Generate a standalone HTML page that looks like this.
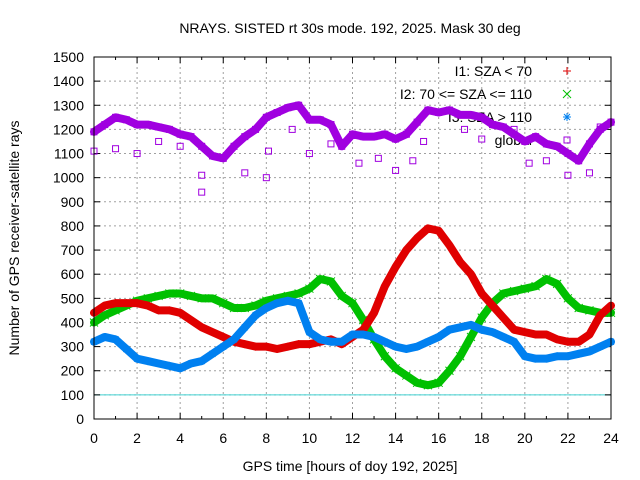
<!DOCTYPE html>
<html><head><meta charset="utf-8"><style>
body{margin:0;background:#fff}
svg{display:block;font-family:"Liberation Sans",sans-serif}
</style></head><body>
<svg id="chart" width="640" height="480" viewBox="0 0 640 480"></svg>
<script>
const hours=[0,0.5,1,1.5,2,2.5,3,3.5,4,4.5,5,5.5,6,6.5,7,7.5,8,8.5,9,9.5,10,10.5,11,11.5,12,12.5,13,13.5,14,14.5,15,15.5,16,16.5,17,17.5,18,18.5,19,19.5,20,20.5,21,21.5,22,22.5,23,23.5,24];
const globalVals=[1190,1220,1250,1240,1220,1220,1210,1200,1180,1170,1130,1090,1080,1130,1170,1200,1250,1270,1290,1300,1240,1240,1220,1130,1180,1170,1170,1180,1160,1180,1230,1280,1270,1280,1260,1260,1250,1220,1210,1180,1150,1170,1140,1130,1100,1070,1140,1200,1230];
const i1Vals=[440,470,480,480,480,470,450,450,440,410,380,360,340,320,310,300,300,290,300,310,310,320,330,310,340,370,440,550,630,700,750,790,780,720,650,600,520,470,420,370,360,350,350,330,320,320,350,430,470];
const i2Vals=[400,430,450,470,490,500,510,520,520,510,500,500,480,460,460,470,490,500,510,520,540,580,570,510,480,410,330,260,210,180,150,140,150,200,260,340,420,480,520,530,540,550,580,560,500,460,450,440,440];
const i3Vals=[320,340,330,290,250,240,230,220,210,230,240,270,300,330,380,430,460,480,490,480,360,330,320,320,350,350,340,320,300,290,300,320,340,370,380,390,370,360,340,320,260,250,250,260,260,270,280,300,320];
const globalOutX=[0,1,2,3,4,5,5,7,8,8.1,9.2,10,11,12.3,13.2,14,14.8,15.3,17.2,18,19.5,20.2,21,22,23,23.5];
const globalOutY=[1110,1120,1100,1150,1130,1010,940,1020,1000,1110,1200,1100,1140,1060,1080,1030,1070,1150,1200,1160,1200,1060,1070,1010,1020,1210];
const xTicks=[0,2,4,6,8,10,12,14,16,18,20,22,24];
const yTicks=[0,100,200,300,400,500,600,700,800,900,1000,1100,1200,1300,1400,1500];

const NS="http://www.w3.org/2000/svg";
const svg=document.getElementById('chart');
const X0=94,X1=611,Y0=419,Y1=57;
const sx=h=>X0+(X1-X0)*h/24;
const sy=v=>Y0-(Y0-Y1)*v/1500;
function mk(tag,attrs,parent){const e=document.createElementNS(NS,tag);for(const k in attrs)e.setAttribute(k,attrs[k]);(parent||svg).appendChild(e);return e;}

const grid=mk('g',{});


xTicks.forEach(t=>{if(t>0&&t<24)mk('line',{x1:sx(t),x2:sx(t),y1:Y0,y2:Y1,stroke:'#a0a0a0','stroke-dasharray':'2,3'},grid);});
yTicks.forEach(t=>{if(t>0&&t<1500)mk('line',{x1:X0,x2:X1,y1:sy(t),y2:sy(t),stroke:'#a0a0a0','stroke-dasharray':'2,3'},grid);});
const ref=mk('line',{x1:X0,x2:X1,y1:sy(100),y2:sy(100),stroke:'#40d0d0','stroke-width':1});



const axes=mk('g',{});


xTicks.forEach(t=>{
  mk('line',{x1:sx(t),x2:sx(t),y1:Y0,y2:Y0-6,stroke:'#000'},axes);
  mk('line',{x1:sx(t),x2:sx(t),y1:Y1,y2:Y1+6,stroke:'#000'},axes);
  const l=mk('text',{x:sx(t),y:443,'text-anchor':'middle','font-size':14},axes);l.textContent=t;
  
  
});
for(let t=1;t<24;t+=2){mk('line',{x1:sx(t),x2:sx(t),y1:Y0,y2:Y0-3,stroke:'#000'},axes);mk('line',{x1:sx(t),x2:sx(t),y1:Y1,y2:Y1+3,stroke:'#000'},axes);}
yTicks.forEach(t=>{
  mk('line',{x1:X0,x2:X0+6,y1:sy(t),y2:sy(t),stroke:'#000'},axes);
  mk('line',{x1:X1,x2:X1-6,y1:sy(t),y2:sy(t),stroke:'#000'},axes);
  const l=mk('text',{x:84,y:sy(t)+5,'text-anchor':'end','font-size':14},axes);l.textContent=t;
  
  
});

function drawMarker(g,m,x,y,c){
  if(m==='plus'){mk('path',{d:`M${x-4} ${y}h8M${x} ${y-4}v8`,stroke:c,fill:'none'},g);}
  else if(m==='x'){mk('path',{d:`M${x-4} ${y-4}l8 8M${x-4} ${y+4}l8 -8`,stroke:c,fill:'none'},g);}
  else if(m==='star'){mk('path',{d:`M${x-4} ${y}h8M${x} ${y-4}v8M${x-3} ${y-3}l6 6M${x-3} ${y+3}l6 -6`,stroke:c,fill:'none'},g);}
  else {mk('rect',{x:x-3,y:y-3,width:6,height:6,stroke:c,fill:'none'},g);}
}

// legend (drawn beneath data, as in reference)
const leg=mk('g',{});


const legLabels=['I1: SZA < 70','I2: 70 <= SZA <= 110','I3: SZA > 110','global'];
const legColors=['#e00000','#00c000','#0080f0','#a000e0'];
const legMarks=['plus','x','star','sq'];
legLabels.forEach((s,i)=>{
  const y=71+i*23;
  const t=mk('text',{x:532,y:y+5,'text-anchor':'end','font-size':14},leg);t.textContent=s;
  
  
  drawMarker(leg,legMarks[i],567,y,legColors[i]);
});

function series(name,vals,color,marker){
  const g=mk('g',{});
  
  
  const pts=hours.map((h,i)=>sx(h)+','+sy(vals[i])).join(' ');
  mk('polyline',{points:pts,fill:'none',stroke:color,'stroke-width':8,'stroke-linejoin':'round','stroke-linecap':'round'},g);
  hours.forEach((h,i)=>drawMarker(g,marker,sx(h),sy(vals[i]),color));
}
series('series-global',globalVals,'#a000e0','sq');
const og=mk('g',{});


globalOutX.forEach((h,i)=>drawMarker(og,'sq',sx(h),sy(globalOutY[i]),'#a000e0'));
series('series-i2',i2Vals,'#00c000','x');
series('series-i1',i1Vals,'#e00000','plus');
series('series-i3',i3Vals,'#0080f0','star');

const fr=mk('rect',{x:X0,y:Y1,width:X1-X0,height:Y0-Y1,fill:'none',stroke:'#000'});



const title=mk('text',{x:350,y:33,'text-anchor':'middle','font-size':14});title.textContent='NRAYS. SISTED rt 30s mode. 192, 2025. Mask 30 deg';


const xl=mk('text',{x:350,y:471,'text-anchor':'middle','font-size':14});xl.textContent='GPS time [hours of doy 192, 2025]';


const yl=mk('text',{x:19,y:238,'text-anchor':'middle','font-size':14,transform:'rotate(-90 19 238)'});yl.textContent='Number of GPS receiver-satellite rays';


</script>
</body></html>
